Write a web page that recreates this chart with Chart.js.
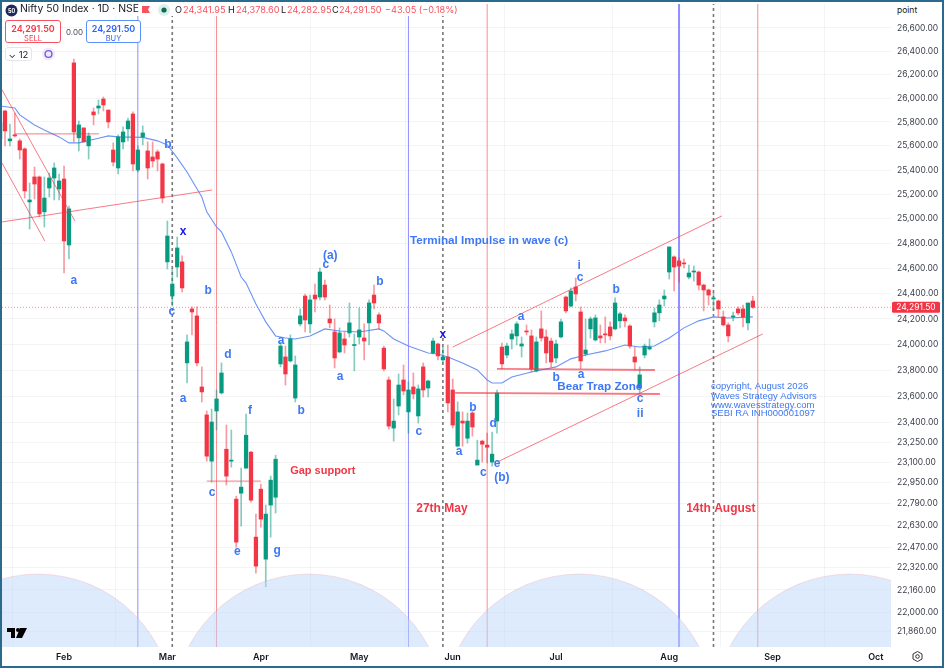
<!DOCTYPE html>
<html>
<head>
<meta charset="utf-8">
<title>Nifty 50 Index</title>
<script src="https://cdn.jsdelivr.net/npm/chart.js@4"></script>
<style>
  html, body { margin: 0; padding: 0; background: #fff; overflow: hidden; }
  #wrap { position: relative; width: 944px; height: 668px; font-family: Inter, "Liberation Sans", sans-serif; }
  #frame { position: absolute; left: 0; top: 0; width: 940px; height: 664px; border: 2px solid #2a6a8c; pointer-events: none; }
  #strip { position: absolute; left: 2px; top: 2px; width: 454px; height: 14px; background: #fff; }
  .t { position: absolute; white-space: nowrap; line-height: 1; }
  .box { position: absolute; background: #fff; border-radius: 3px; box-sizing: border-box; text-align: center; }
  .box b { display: block; font-size: 9px; font-weight: 600; margin-top: 3px; line-height: 10px; }
  .box span { display: block; font-size: 7.5px; line-height: 9px; }
  svg { position: absolute; }
</style>
</head>
<body>
<div id="wrap">
  <canvas id="chart" width="944" height="668"></canvas>

  <div id="strip"></div>
  <svg style="left:5px;top:4px" width="13" height="13"><circle cx="6.5" cy="6.5" r="6" fill="#1c2a5e"/><text x="6.5" y="8.6" font-size="5.5" font-weight="700" fill="#fff" text-anchor="middle" font-family="Inter">50</text></svg>
  <div class="t" style="left:20px;top:4px;font-size:10.4px;color:#131722">Nifty 50 Index · 1D · NSE</div>
  <svg style="left:142px;top:6px" width="10" height="9"><path d="M0 0H8L6 3.5L8 7H0Z" fill="#f7525f"/></svg>
  <svg style="left:157px;top:3px" width="14" height="14"><circle cx="7" cy="7" r="6" fill="#dcefea"/><circle cx="7" cy="7" r="2.6" fill="#0b6b58"/></svg>
  <div class="t" style="left:175px;top:5px;font-size:9.2px;color:#131722">O</div>
  <div class="t" style="left:183px;top:5px;font-size:9.2px;color:#f7525f">24,341.95</div>
  <div class="t" style="left:228px;top:5px;font-size:9.2px;color:#131722">H</div>
  <div class="t" style="left:236px;top:5px;font-size:9.2px;color:#f7525f">24,378.60</div>
  <div class="t" style="left:281px;top:5px;font-size:9.2px;color:#131722">L</div>
  <div class="t" style="left:287px;top:5px;font-size:9.2px;color:#f7525f">24,282.95</div>
  <div class="t" style="left:332px;top:5px;font-size:9.2px;color:#131722">C</div>
  <div class="t" style="left:339px;top:5px;font-size:9.2px;color:#f7525f">24,291.50</div>
  <div class="t" style="left:385px;top:5px;font-size:9.2px;color:#f7525f">−43.05 (−0.18%)</div>

  <div class="box" style="left:5px;top:20px;width:56px;height:23px;border:1px solid #f7525f;color:#f23645"><b>24,291.50</b><span>SELL</span></div>
  <div class="t" style="left:66px;top:28px;font-size:8px;color:#444a55;background:#fff">0.00</div>
  <div class="box" style="left:86px;top:20px;width:55px;height:23px;border:1px solid #5b8ff9;color:#2962ff"><b>24,291.50</b><span>BUY</span></div>
  <div class="box" style="left:5px;top:47px;width:27px;height:14px;border:1px solid #e3e5ea;color:#131722;font-size:9.5px;line-height:13px">⌄ 12</div>
  <svg style="left:41px;top:47px" width="15" height="14"><circle cx="7.5" cy="7" r="6.5" fill="#efe9fb"/><circle cx="7.5" cy="7" r="3.4" fill="none" stroke="#7e57e0" stroke-width="1.4"/></svg>
  <div class="box" style="left:896px;top:4px;width:44px;height:15px;text-align:left;color:#131722;font-size:8.5px;line-height:13px;padding-left:1px">point</div>

  <svg style="left:7px;top:628px" width="20" height="11"><path d="M0 0H8V10H4V4H0Z M13 0H20L15 10H9Z" fill="#000"/><circle cx="11" cy="2" r="2" fill="#000"/></svg>
  <svg style="left:911px;top:650px" width="13" height="13"><path d="M6.5 1.5L11 4V9L6.5 11.5L2 9V4Z" fill="none" stroke="#333" stroke-width="1"/><circle cx="6.5" cy="6.5" r="1.8" fill="none" stroke="#333"/></svg>
  <div id="frame"></div>
</div>

<script>
// daily bars, first one sits just left of the visible area
const firstBar = -1;
const opens = [25658,
  25892,25642,25692,25642,25575,25138,25343,25343,25057,25252,
  25334,25244,25326,24789,26300,25667,25750,25600,25884,25917,
  25993,25900,25566,25417,25633,25742,25867,25400,25675,25558,
  25508,25550,25450,24653,24381,24612,24653,23857,24279,24224,
  23671,23457,23107,23487,23625,23197,23107,22824,22868,23055,
  23175,22544,22898,22383,22780,22838,23849,23903,23872,23586,
  24161,24381,24161,24389,24373,24468,24200,24098,23942,24043,
  24090,23992,24059,24051,24169,24389,24232,23972,23725,23357,
  23525,23725,23480,23671,23449,23826,23663,23934,24004,23880,
  23903,23648,23220,23410,23280,23472,23078,23258,23228,23100,
  23410,23980,23918,24043,24067,23988,24106,24067,23795,24122,
  24059,24027,23895,24059,24373,24302,24453,24255,23926,24122,
  24035,24067,24082,24137,24122,24185,24208,24145,23903,23663,
  23918,23965,24177,24248,24358,24572,24693,24661,24645,24532,
  24572,24572,24468,24429,24358,24342,24216,24153,24216,24279,
  24279,24169,24341.95];
const highs = [25817,
  25900,25783,25875,25658,25583,25293,25425,25351,25343,25375,
  25458,25367,25433,25105,26333,25808,25750,25708,25917,25985,
  26010,25900,25625,25692,25758,25833,25884,25600,25767,25633,
  25633,25566,25458,24983,24596,24853,24701,24075,24295,24295,
  23826,23487,23502,23648,23857,23380,23342,22846,23055,23464,
  23182,22713,22935,22780,22995,23152,24020,23988,24075,23911,
  24279,24397,24389,24476,24604,24508,24310,24200,24130,24098,
  24326,24082,24287,24161,24350,24468,24248,23988,23748,23579,
  23771,23841,23710,23779,23686,23857,23725,24051,24012,23980,
  23996,23733,23556,23480,23472,23487,23265,23265,23319,23327,
  23648,24012,24012,24114,24177,24059,24153,24114,24059,24263,
  24114,24051,24035,24200,24381,24445,24524,24295,24200,24216,
  24232,24153,24216,24177,24366,24255,24232,24153,23980,23826,
  24004,24043,24287,24350,24429,24773,24701,24685,24677,24628,
  24620,24580,24476,24437,24405,24350,24263,24169,24255,24295,
  24310,24326,24378.6];
const lows = [25608,
  25600,25600,25675,25491,25170,24918,25162,25016,24934,25178,
  25154,25154,24564,24677,25633,25558,25633,25491,25775,25867,
  25892,25750,25433,25367,25575,25642,25392,25384,25608,25326,
  25425,25392,25130,24596,24302,24532,24413,23702,24075,23834,
  23556,23107,22950,23342,23617,22928,23062,22470,22625,23055,
  22801,22282,22617,22182,22544,22721,23826,23686,23864,23556,
  24145,24098,24090,24255,24350,24350,24130,23818,23934,23934,
  24059,23795,24004,23880,23996,24279,24122,23795,23349,23258,
  23457,23610,23319,23579,23395,23594,23594,23926,23880,23857,
  23480,23357,23220,23220,23243,23296,23078,23100,23093,23070,
  23319,23810,23895,23965,23996,23903,24075,23787,23787,24027,
  23857,23826,23857,24051,24248,24295,24342,23810,23911,24051,
  24027,24012,24012,24035,24114,24130,24137,23972,23802,23625,
  23895,23957,24137,24185,24302,24516,24421,24492,24604,24516,
  24500,24429,24263,24310,24271,24216,24145,24020,24185,24232,
  24137,24114,24282.95];
const closes = [25792,
  25725,25658,25683,25566,25228,25154,25285,25040,25170,25334,
  25417,25310,24821,25081,25716,25775,25633,25683,25859,25934,
  25943,25800,25466,25675,25716,25808,25450,25566,25708,25417,
  25475,25491,25170,24861,24476,24765,24445,24020,24255,23857,
  23633,23145,23403,23579,23779,22995,23115,22507,22913,23303,
  22816,22332,22676,22713,22965,23122,23988,23771,24043,23841,
  24224,24192,24350,24358,24572,24373,24169,23895,24090,23996,
  24169,23996,24114,24027,24326,24326,24169,23810,23372,23410,
  23686,23640,23648,23617,23656,23648,23717,24027,23911,23903,
  23548,23380,23480,23395,23410,23365,23115,23235,23212,23160,
  23625,23849,23988,24082,24161,24004,24098,23810,24020,24051,
  23934,23864,24004,24177,24263,24421,24397,23872,23957,24200,
  24208,24051,24075,24067,24326,24240,24185,23988,23864,23764,
  23988,23980,24248,24310,24381,24773,24612,24620,24637,24564,
  24580,24468,24429,24389,24366,24279,24153,24067,24224,24248,
  24216,24326,24291.5];

// moving average read at a few bars
const maBars = [-1,2,3,6,8,11,13,15,19,21,23,28,31,33,35,37,40,41,43,44,46,48,49,51,53,55,57,59,62,65,68,72,76,77,79,82,86,88,90,93,96,98,99,101,103,107,112,115,118,122,126,129,132,135,138,141,144,147,152];
const maValues = [25934,25918,25859,25775,25733,25675,25625,25625,25663,25683,25675,25671,25642,25608,25500,25384,25178,25057,24934,24894,24733,24532,24484,24318,24177,24067,24051,24043,24067,24122,24106,24098,24122,24106,24043,23988,23934,23926,23903,23857,23802,23725,23702,23702,23748,23787,23826,23888,23918,23950,23996,23980,23988,24051,24130,24185,24216,24208,24216];

const priceTicks = [26600,26400,26200,26000,25800,25600,25400,25200,25000,24800,24600,24400,24200,24000,23800,23600,23400,23250,23100,22950,22790,22630,22470,22320,22160,22000,21860];
const monthLabels = ["Feb","Mar","Apr","May","Jun","Jul","Aug","Sep","Oct"];
const monthBars = [12,33,52,72,91,112,135,156,177];

// time cycles, all 55 bars apart
const blueCycleBars = [27,82,137];
const redCycleBars = [43,98,153];
const dashCycleBars = [34,89,144];
const arcCentreBars = [6.7,61.7,116.7,171.7];
const arcRadiusBars = 27.5;
const arcTopPrice = 22275;

// drawn lines: bar, price, bar, price
const thinLines = [
  [-0.6,26070,14.2,24983],
  [-0.6,25458,8.1,24821],
  [-0.6,24975,42.1,25236],
  [2,25700,19.1,25700],
  [41,22958,52,22958],
  [91,23980,145.7,25024],
  [100,23100,154,24082]
];
const boldLines = [
  [100,23810,132.1,23802],
  [91.5,23625,133.1,23617]
];

const waveTexts = ["a","b","c","b","a","d","c","e","f","g","a","b","(a)","c","a","b","c","a","b","d","c","e","(b)","a","b","i","c","a","b","c","ii"];
const waveBars = [14,33.1,33.9,41.3,36.2,45.3,42.1,47.2,49.8,55.3,56.1,60.2,66.1,65.2,68.1,76.2,84.1,92.3,95.1,99.2,97.2,100,101,104.9,112,116.7,116.9,117.1,124.2,129.1,129.1];
const wavePrices = [24500,25608,24255,24421,23579,23918,22875,22434,23487,22448,24027,23487,24701,24628,23748,24492,23327,23175,23510,23388,23018,23085,22980,24216,23740,24620,24524,23764,24429,23579,23464];
const xTexts = ["x","x"];
const xBars = [36.2,89];
const xPrices = [24894,24075];
const noteTexts = ["Terminal Impulse in wave (c)","Bear Trap Zone"];
const noteBars = [98.4,120.9];
const notePrices = [24821,23671];
const redTexts = ["Gap support","27th May","14th August"];
const redBars = [64.6,88.8,145.5];
const redPrices = [23033,22750,22750];
const copyTexts = ["copyright, August 2026","Waves Strategy Advisors","www.wavesstrategy.com","SEBI RA INH000001097"];
const copyBar = 143.5;
const copyPrices = [23679,23602,23533,23472];

const lastClose = closes[closes.length - 1];
const xMin = -0.61, xMax = 180.08, yMin = 21753, yMax = 26808;
const UP = "#089981", DOWN = "#f23645";
const isUp = opens.map((o, i) => closes[i] >= o);
const barX = i => i + firstBar;

function lineSet(pts, color, width, order, dash) {
  return { type: "line", data: pts, borderColor: color, borderWidth: width, borderDash: dash || [],
    pointRadius: 0, order: order, tension: 0, fill: false };
}
function verticals(bars, color, width, dash, widths) {
  return bars.map((b, i) => lineSet([{x: b, y: yMin}, {x: b, y: yMax}], color, widths ? widths[i] : width, 10, dash));
}
function segments(list, width) {
  return list.map(l => lineSet([{x: l[0], y: l[1]}, {x: l[2], y: l[3]}], "rgba(242,54,69,.66)", width, 2));
}

const overlayPlugin = {
  id: "overlay",
  afterDatasetsDraw(chart) {
    const {ctx, chartArea, scales: {x, y}} = chart;
    ctx.save();
    ctx.beginPath();
    ctx.rect(chartArea.left, chartArea.top, chartArea.width, chartArea.height);
    ctx.clip();
    const r = x.getPixelForValue(arcRadiusBars) - x.getPixelForValue(0);
    const topY = y.getPixelForValue(arcTopPrice);
    arcCentreBars.forEach(b => {
      ctx.beginPath();
      ctx.arc(x.getPixelForValue(b), topY + r, r, 0, Math.PI * 2);
      ctx.fillStyle = "rgba(190,216,252,.5)";
      ctx.fill();
      ctx.lineWidth = 1;
      ctx.strokeStyle = "rgba(242,54,69,.14)";
      ctx.stroke();
    });
    ctx.restore();
  },
  afterDraw(chart) {
    const {ctx, chartArea, scales: {x, y}} = chart;
    ctx.save();
    ctx.textAlign = "center";
    ctx.textBaseline = "middle";
    const put = (txts, bars, prices, font, color) => {
      ctx.font = font;
      ctx.fillStyle = color;
      txts.forEach((t, i) => ctx.fillText(t, x.getPixelForValue(bars[i]), y.getPixelForValue(prices[i])));
    };
    put(waveTexts, waveBars, wavePrices, "bold 12px 'Liberation Sans'", "#3d78f5");
    put(xTexts, xBars, xPrices, "bold 12px 'Liberation Sans'", "#1414f0");
    put(noteTexts, noteBars, notePrices, "bold 11.7px 'Liberation Sans'", "#3d78f5");
    put(redTexts.slice(0, 1), redBars, redPrices, "bold 11px 'Liberation Sans'", "#f23645");
    put(redTexts.slice(1), redBars.slice(1), redPrices.slice(1), "bold 12px 'Liberation Sans'", "#f23645");

    ctx.textAlign = "left";
    ctx.font = "9.5px 'Liberation Sans'";
    ctx.fillStyle = "#3f78ee";
    copyTexts.forEach((t, i) => ctx.fillText(t, x.getPixelForValue(copyBar), y.getPixelForValue(copyPrices[i])));

    // last price tag on the axis
    const py = y.getPixelForValue(lastClose);
    ctx.fillStyle = "#f23645";
    ctx.beginPath();
    ctx.roundRect(chartArea.right + 1, py - 5.5, 48, 11, 1.5);
    ctx.fill();
    ctx.fillStyle = "#fff";
    ctx.font = "400 8.5px Inter";
    ctx.textAlign = "center";
    ctx.fillText(lastClose.toLocaleString("en-US", {minimumFractionDigits: 2}), chartArea.right + 25, py + 0.5);
    ctx.restore();
  }
};

new Chart(document.getElementById("chart"), {
  type: "bar",
  plugins: [overlayPlugin],
  data: {
    datasets: [
      { label: "bodies", data: opens.map((o, i) => ({x: barX(i), y: [o, closes[i]]})),
        backgroundColor: isUp.map(u => u ? UP : DOWN), barThickness: 3.6, grouped: false, minBarLength: 1, order: 3 },
      { label: "wicks", data: lows.map((l, i) => ({x: barX(i), y: [l, highs[i]]})),
        backgroundColor: isUp.map(u => u ? "rgba(8,153,129,.5)" : "rgba(242,54,69,.5)"), barThickness: 1, grouped: false, order: 4 },
      lineSet(maBars.map((b, i) => ({x: b, y: maValues[i]})), "#6c93f7", 1.1, 5),
      ...segments(thinLines, 1),
      ...segments(boldLines, 1.8),
      lineSet([{x: xMin, y: lastClose}, {x: xMax, y: lastClose}], "rgba(242,54,69,.55)", 1, 9, [1, 2]),
      ...verticals(blueCycleBars, "#8f8fff", 1, [], [1, 1, 2]),
      ...verticals(redCycleBars, "#f88d92", 1),
      ...verticals(dashCycleBars, "#787878", 1.6, [3, 3])
    ]
  },
  options: {
    responsive: false,
    animation: false,
    devicePixelRatio: 1,
    layout: { padding: { left: 2, top: 4, right: 0, bottom: 0 } },
    plugins: { legend: { display: false }, tooltip: { enabled: false } },
    scales: {
      x: {
        type: "linear", min: xMin, max: xMax, offset: false,
        afterBuildTicks: s => { s.ticks = monthBars.map(v => ({value: v})); },
        afterFit: s => { s.height = 21; s.paddingLeft = 0; s.paddingRight = 0; },
        grid: { color: "rgba(0,0,0,.045)", drawTicks: false },
        border: { display: false },
        ticks: { autoSkip: false, maxRotation: 0, padding: 5, color: "#131722",
          font: { family: "Inter", size: 9, weight: "600" },
          callback: (v, i) => monthLabels[i] }
      },
      y: {
        type: "logarithmic", position: "right", min: yMin, max: yMax,
        afterBuildTicks: s => { s.ticks = priceTicks.map(v => ({value: v})); },
        afterFit: s => { s.width = 53; s.paddingTop = 0; s.paddingBottom = 0; },
        grid: { color: "rgba(0,0,0,.045)", drawTicks: false },
        border: { display: false },
        ticks: { autoSkip: false, padding: 6, color: "#3b3f4a",
          font: { family: "Inter", size: 8.5 },
          callback: v => v.toLocaleString("en-US", {minimumFractionDigits: 2}) }
      }
    }
  }
});
</script>
</body>
</html>
